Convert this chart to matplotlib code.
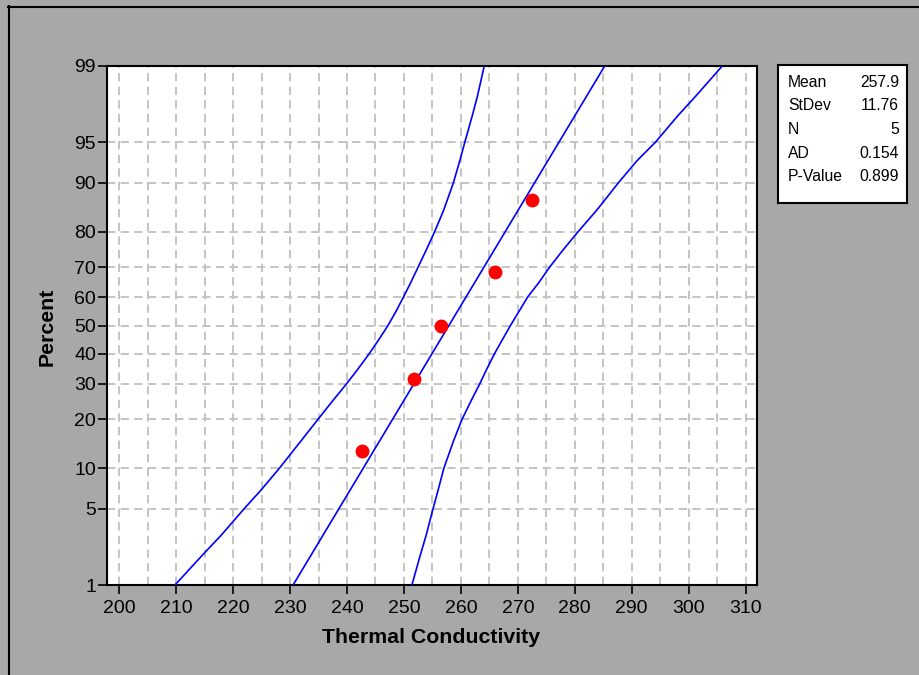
import matplotlib
matplotlib.use('Agg')
import matplotlib.pyplot as plt
from matplotlib.lines import Line2D
from statistics import NormalDist
import numpy as np

plt.rcParams['font.family'] = ['Liberation Sans', 'DejaVu Sans']
plt.rcParams['lines.scale_dashes'] = False

# ---- data ----
values = [242.7, 251.7, 256.5, 266.0, 272.5]
plot_percent = [12.96, 31.48, 50.0, 68.52, 87.04]

mean = 257.9
stdev = 11.76

band_percent = [1, 2, 3, 5, 7, 10, 15, 20, 25, 30, 35, 40, 45, 50, 55, 60, 65,
                70, 75, 80, 85, 90, 93, 95, 97, 98, 99]
lower_band = [209.8, 214.7, 217.9, 221.9, 224.9, 228.1, 231.9, 234.9, 237.5, 239.9,
              242.0, 243.9, 245.6, 247.2, 248.6, 249.9, 251.2, 252.5, 253.9, 255.4,
              257.0, 258.7, 259.8, 260.7, 262.0, 262.9, 264.1]
upper_band = [251.4, 252.9, 253.9, 255.1, 256.0, 257.0, 258.7, 260.2, 261.8, 263.3,
              264.6, 265.9, 267.3, 268.7, 270.2, 271.7, 273.7, 275.6, 277.9, 280.6,
              283.9, 287.7, 290.9, 294.2, 298.1, 301.2, 305.9]

y_ticks = [1, 5, 10, 20, 30, 40, 50, 60, 70, 80, 90, 95, 99]
x_ticks = list(range(200, 311, 10))
x_minor = list(range(205, 311, 10))

stat_names = ['Mean', 'StDev', 'N', 'AD', 'P-Value']
stat_values = ['257.9', '11.76', '5', '0.154', '0.899']

xlabel = 'Thermal Conductivity'
ylabel = 'Percent'

# ---- helpers ----
nd = NormalDist()
def zq(p):
    return np.array([nd.inv_cdf(v / 100.0) for v in np.atleast_1d(p)])

W, H = 919, 675
fig = plt.figure(figsize=(W / 100, H / 100), dpi=100, facecolor='#a8a8a8')

ax = fig.add_axes([107 / W, 1 - 585 / H, 650 / W, 519 / H])
ax.set_facecolor('white')
ax.set_xlim(197.86, 312.0)
ax.set_ylim(zq(1)[0], zq(99)[0])

grid_kw = dict(color='#c4c4c4', linewidth=1.4, linestyle=(0, (6, 3.8)))
ax.set_xticks(x_ticks)
ax.set_xticks(x_minor, minor=True)
ax.set_yticks(zq(y_ticks))
ax.set_yticklabels([str(t) for t in y_ticks])
ax.grid(True, which='both', axis='x', **grid_kw)
ax.grid(True, which='major', axis='y', **grid_kw)
ax.set_axisbelow(True)

ax.tick_params(axis='both', which='major', direction='out', length=6.5, width=1.2,
               labelsize=14, colors='black')
ax.tick_params(axis='x', which='major', pad=4)
ax.tick_params(axis='y', which='major', pad=1.5)
ax.tick_params(axis='x', which='minor', length=0)
for sp in ax.spines.values():
    sp.set_linewidth(1.5)
    sp.set_color('black')

# confidence bands
zb = zq(band_percent)
ax.plot(lower_band, zb, color='#0000ff', linewidth=1.2, zorder=3)
ax.plot(upper_band, zb, color='#0000ff', linewidth=1.2, zorder=3)
# fitted line from mean / stdev
zf = zq([1, 99])
ax.plot(mean + stdev * zf, zf, color='#0000ff', linewidth=1.2, zorder=3)
# points
ax.plot(values, zq(plot_percent), 'o', color='#ff0000', markersize=10,
        markeredgewidth=0, zorder=4, clip_on=False)

# axis labels
fig.text(431 / W, 1 - 643 / H, xlabel, ha='center', va='baseline',
         fontsize=15.3, fontweight='bold')
fig.text(47 / W, 1 - 327 / H, ylabel, ha='center', va='center', rotation=90,
         fontsize=15.3, fontweight='bold')

# stats box
bx = fig.add_axes([778 / W, 1 - 203 / H, 129 / W, 138 / H])
bx.set_facecolor('white')
bx.set_xticks([])
bx.set_yticks([])
for sp in bx.spines.values():
    sp.set_linewidth(1.5)
    sp.set_color('black')
rows_y = [82.7, 106, 130, 153.3, 176.7]
for name, val, yp in zip(stat_names, stat_values, rows_y):
    fy = (203 - yp) / 138
    bx.text((788 - 778) / 129, fy, name, ha='left', va='center', fontsize=11.3,
            transform=bx.transAxes)
    bx.text((899 - 778) / 129, fy, val, ha='right', va='center', fontsize=11.3,
            transform=bx.transAxes)

# outer frame (cropped on right/bottom)
fig.add_artist(Line2D([8.5 / W, 8.5 / W], [0, 1 - 6 / H], color='black',
                      linewidth=1.5, transform=fig.transFigure))
fig.add_artist(Line2D([8 / W, 1], [1 - 6.5 / H, 1 - 6.5 / H], color='black',
                      linewidth=1.5, transform=fig.transFigure))

fig.savefig('out.png', dpi=100, facecolor=fig.get_facecolor())
